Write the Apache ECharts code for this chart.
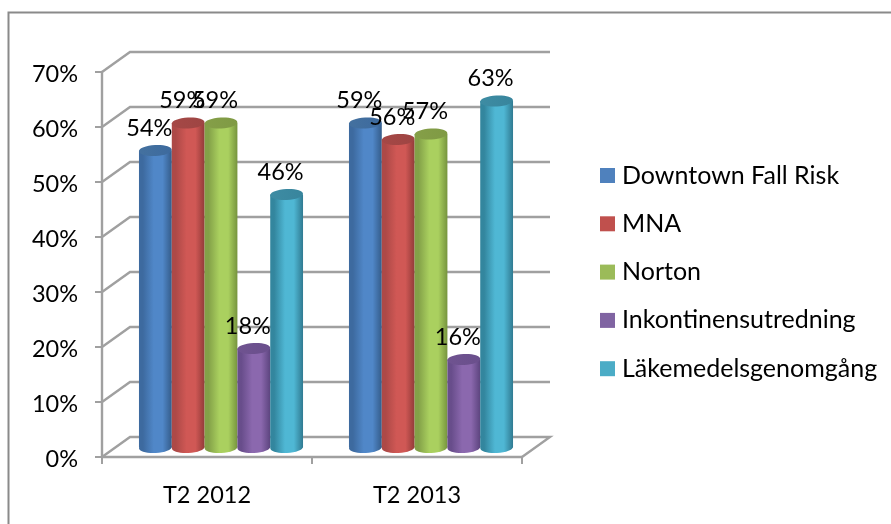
<!DOCTYPE html>
<html>
<head>
<meta charset="utf-8">
<style>html,body{margin:0;padding:0;background:#fff}#chart{width:891px;height:524px}</style>
<script src="https://cdn.jsdelivr.net/npm/echarts@6/dist/echarts.min.js"></script>
</head>
<body>
<div id="chart"></div>
<script>
const categories = ['T2 2012', 'T2 2013'];
const downtown = [54, 59];
const mna = [59, 56];
const norton = [59, 57];
const inkontinens = [18, 16];
const lakemedel = [46, 63];
const yTicks = [0, 10, 20, 30, 40, 50, 60, 70];
const seriesNames = ['Downtown Fall Risk', 'MNA', 'Norton', 'Inkontinensutredning', 'Läkemedelsgenomgång'];
const seriesValues = [downtown, mna, norton, inkontinens, lakemedel];
const colors = ['#4f81bd', '#c0504d', '#9bbb59', '#8064a2', '#4bacc6'];
const shades = [
  {edgeL: '#3d6a9f', mid: '#5087c8', edgeR: '#345c8a', top: '#3d6a9e', topL: '#44719f'},
  {edgeL: '#ad4947', mid: '#d05855', edgeR: '#923b39', top: '#9e4543', topL: '#a54846'},
  {edgeL: '#83a148', mid: '#aad05f', edgeR: '#76943e', top: '#7f9a44', topL: '#859f48'},
  {edgeL: '#684d8b', mid: '#8b68ae', edgeR: '#5c447e', top: '#6a4f8c', topL: '#6f5390'},
  {edgeL: '#33869e', mid: '#4fb7d4', edgeR: '#307a91', top: '#38859d', topL: '#3e8ca3'}
];

const font = 'Lato, Carlito, Calibri, sans-serif';
const axisFontSize = 23.5;
const labelFontSize = 23.5;
const legendFontSize = 25;
const wallDx = 28, wallDy = -20;
const midDx = 14, midDy = -9.5;
const gridColor = '#a0a0a0';
const tilt = 0.05;
const G = echarts.graphic;

function wallItem(params, api) {
  const v = api.value(0);
  const cs = params.coordSys;
  const y = api.coord([0, v])[1];
  const x0 = cs.x, x1 = cs.x + cs.width;
  const pts = [[x0, y], [x0 + wallDx, y + wallDy], [x1 + wallDx, y + wallDy]];
  if (v === 0) pts.push([x1, y]);
  return {type: 'polyline', silent: true,
    shape: {points: pts},
    style: {stroke: gridColor, lineWidth: 2.4, fill: null}};
}

function cylinderItem(s) {
  return function (params, api) {
    const c = api.coord([api.value(0), api.value(1)]);
    const b = api.coord([api.value(0), 0]);
    const w = api.size([1, 0])[0] / 6.4;
    const cx = c[0] + (s - 2) * w + midDx;
    const yTop = c[1] + midDy, yBase = b[1] + midDy;
    const rx = w / 2, ry = 5.5;
    const sh = shades[s];
    const body = () => new G.LinearGradient(0, 0, 1, 0, [
      {offset: 0, color: sh.edgeL},
      {offset: 0.12, color: sh.edgeL},
      {offset: 0.45, color: sh.mid},
      {offset: 0.72, color: sh.mid},
      {offset: 1, color: sh.edgeR}
    ]);
    const topFill = new G.LinearGradient(0, 0, 1, 0, [
      {offset: 0, color: sh.topL}, {offset: 1, color: sh.top}
    ]);
    return {type: 'group', silent: true, children: [
      {type: 'ellipse', shape: {cx: 0, cy: 0, rx: rx, ry: ry}, x: cx, y: yBase, rotation: tilt, style: {fill: body()}},
      {type: 'rect', shape: {x: cx - rx, y: yTop, width: w, height: yBase - yTop}, style: {fill: body()}},
      {type: 'ellipse', shape: {cx: 0, cy: 0, rx: rx, ry: ry}, x: cx, y: yTop, rotation: tilt, style: {fill: topFill}}
    ]};
  };
}

function labelItem(s) {
  return function (params, api) {
    const c = api.coord([api.value(0), api.value(1)]);
    const w = api.size([1, 0])[0] / 6.4;
    return {type: 'text', silent: true,
      style: {
        x: c[0] + (s - 2) * w + midDx - 6,
        y: c[1] + midDy - 22.5,
        text: api.value(1) + '%',
        fill: '#000', font: labelFontSize + 'px ' + font,
        align: 'center', verticalAlign: 'middle'
      }};
  };
}

const series = [{
  type: 'custom', name: 'walls', z: 1, silent: true,
  data: yTicks.map(v => [v]),
  encode: {y: 0}, renderItem: wallItem
}];
seriesNames.forEach((n, s) => {
  series.push({
    type: 'custom', name: n, z: 2, silent: true,
    itemStyle: {color: colors[s]},
    data: seriesValues[s].map((v, i) => [i, v]),
    encode: {x: 0, y: 1}, renderItem: cylinderItem(s)
  });
});
seriesNames.forEach((n, s) => {
  series.push({
    type: 'custom', name: n + ' etikett', z: 3, silent: true,
    data: seriesValues[s].map((v, i) => [i, v]),
    encode: {x: 0, y: 1}, renderItem: labelItem(s)
  });
});

const chart = echarts.init(document.getElementById('chart'), null, {renderer: 'canvas'});
chart.setOption({
  animation: false,
  backgroundColor: '#fff',
  grid: {left: 102, right: 369, top: 72, bottom: 67, containLabel: false},
  graphic: [{
    type: 'polyline', silent: true,
    shape: {points: [[8.5, 524], [8.5, 12.5], [891, 12.5]]},
    style: {stroke: '#8a8a8a', lineWidth: 2, fill: null}
  }],
  legend: {
    orient: 'vertical', left: 595, top: 157.5, itemWidth: 15, itemHeight: 15, itemGap: 22.3,
    selectedMode: false,
    data: seriesNames.map(n => ({name: n, icon: 'rect'})),
    textStyle: {fontFamily: font, fontSize: legendFontSize, color: '#000', padding: [0, 0, 0, 2], lineHeight: 26}
  },
  xAxis: {
    type: 'category', data: categories,
    axisLine: {lineStyle: {color: gridColor, width: 2.4}},
    axisTick: {show: true, length: 7, lineStyle: {color: gridColor, width: 2}},
    axisLabel: {fontFamily: font, fontSize: axisFontSize, color: '#000', margin: 26},
    splitLine: {show: false}
  },
  yAxis: {
    type: 'value', min: 0, max: 70, interval: 10,
    axisLine: {show: true, lineStyle: {color: gridColor, width: 2.4}},
    axisTick: {show: true, length: 7, lineStyle: {color: gridColor, width: 2}},
    axisLabel: {fontFamily: font, fontSize: axisFontSize, color: '#000', margin: 24, padding: [0, 0, 0, 0], lineHeight: 30, verticalAlign: 'middle',
      rich: {v: {fontFamily: font, fontSize: axisFontSize, color: '#000', padding: [4, 0, 0, 0]}},
      formatter: function (val) { return '{v|' + val + '%}'; }},
    splitLine: {show: false}
  },
  series: series
});
</script>
</body>
</html>
